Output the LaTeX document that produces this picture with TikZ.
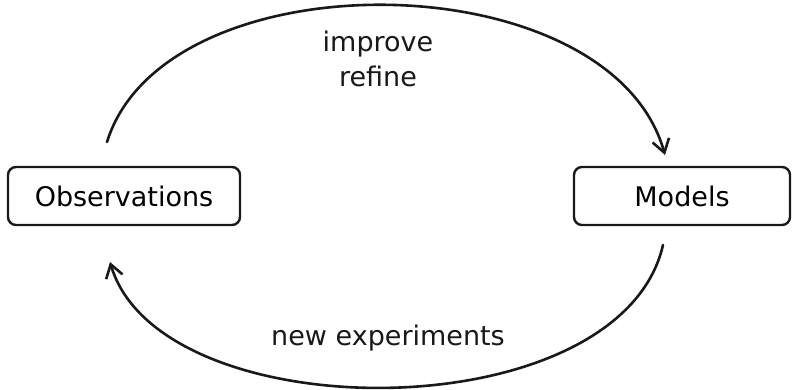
\documentclass[tikz,border=0pt]{standalone}
\usepackage{fontspec}
\setmainfont{DejaVu Sans}
\usetikzlibrary{arrows.meta}
\begin{document}
\begin{tikzpicture}[x=1pt,y=-1pt,
  box/.style={draw=black!90, line width=2.4pt, rounded corners=8pt, minimum height=58pt, inner sep=0pt, font=\fontsize{27}{30}\selectfont},
  lbl/.style={font=\fontsize{27}{35}\selectfont, text=black!90, align=center},
  conn/.style={draw=black!90, line width=2.6pt, line cap=round, -{Straight Barb[length=13pt,width=17pt,line width=2.6pt]}}]
\useasboundingbox[fill=white] (0,0) rectangle (794,389);
\node[box, minimum width=232pt] (obs) at (124,196) {Observations};
\node[box, minimum width=216pt] (mod) at (682,196) {Models};
\coordinate (a1) at (107,142);
\coordinate (a2) at (665,155);
\coordinate (b1) at (663,245);
\coordinate (b2) at (110,262);
\draw[conn] (a1) .. controls (165,-45) and (610,-40) .. (a2);
\draw[conn] (b1) .. controls (620,432) and (160,432) .. (b2);
\node[lbl] (t1) at (378,59) {improve\\refine};
\node[lbl] (t2) at (388,338) {new experiments};
\end{tikzpicture}
\end{document}
